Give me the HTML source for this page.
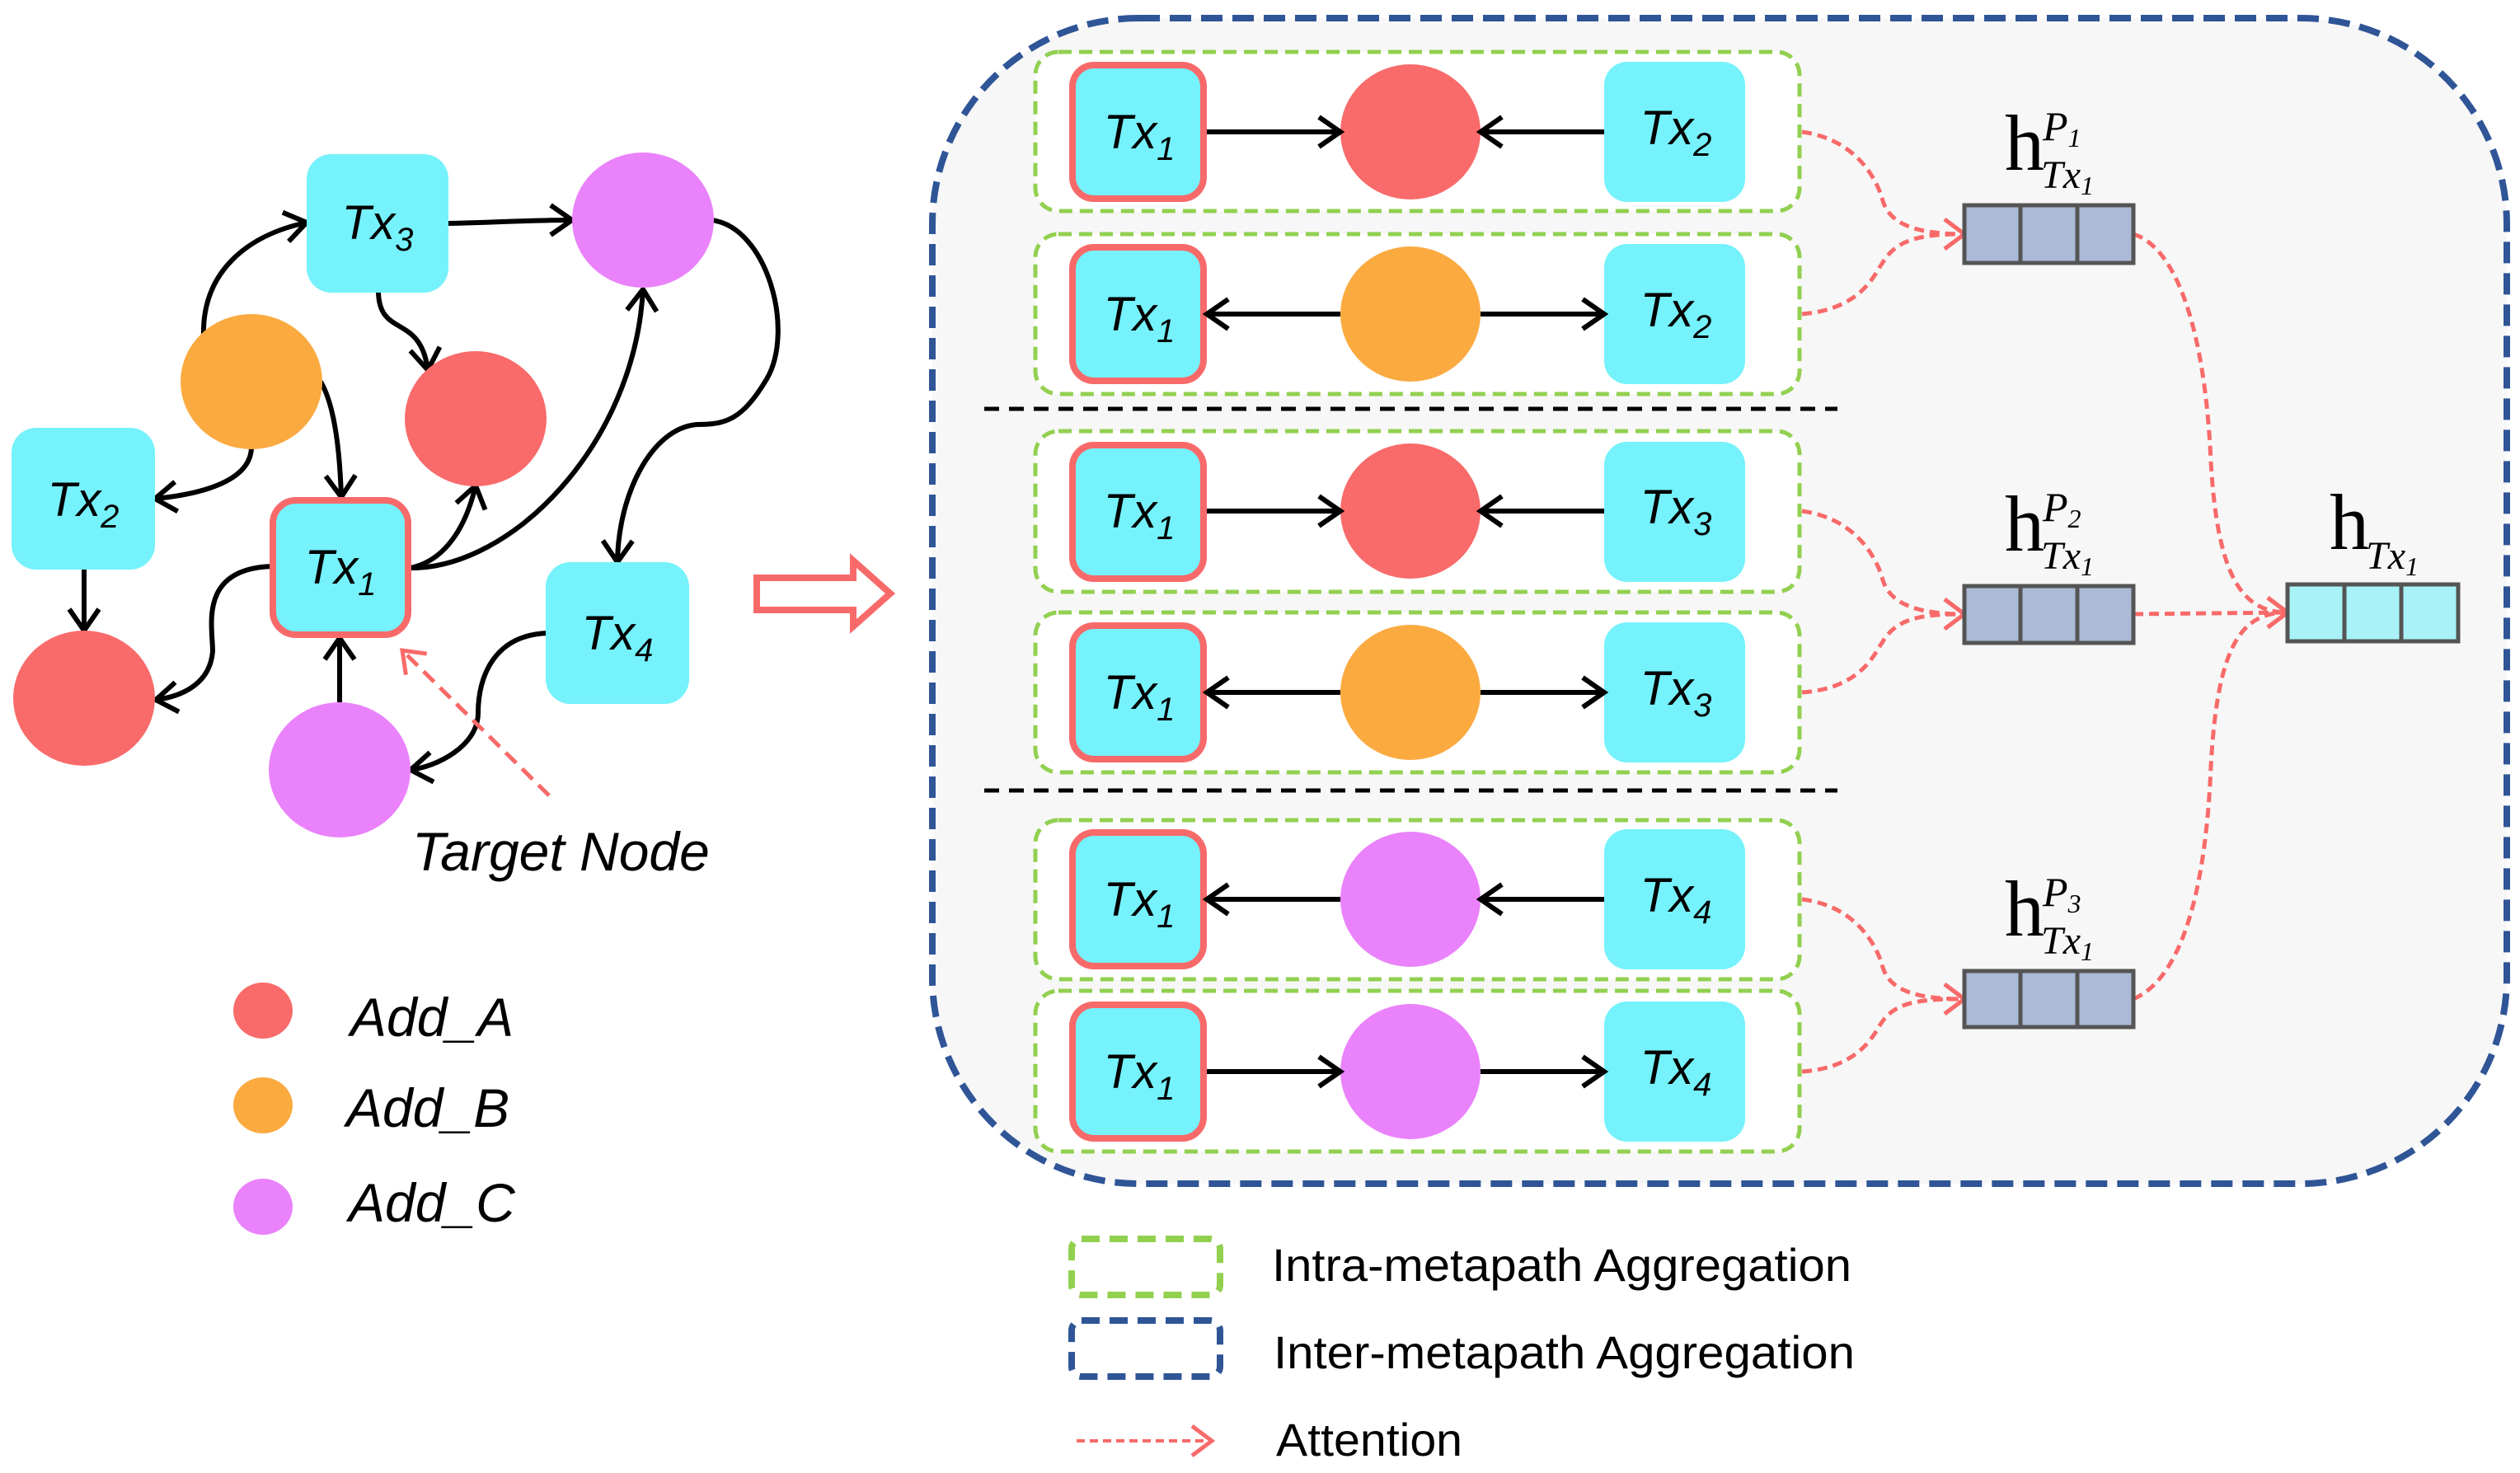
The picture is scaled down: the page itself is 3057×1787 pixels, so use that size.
<!DOCTYPE html>
<html><head><meta charset="utf-8"><style>html,body{margin:0;padding:0;background:#fff}svg{display:block}</style></head><body>
<svg width="3057" height="1787" viewBox="0 0 3057 1787" xmlns="http://www.w3.org/2000/svg" font-family="Liberation Sans, sans-serif">
<defs>
<marker id="ab" markerUnits="userSpaceOnUse" markerWidth="44" markerHeight="44" refX="32" refY="22" orient="auto" viewBox="0 0 44 44"><path d="M6,4 L32,22 L6,40" fill="none" stroke="#000" stroke-width="6"/></marker>
<marker id="ar" markerUnits="userSpaceOnUse" markerWidth="44" markerHeight="44" refX="32" refY="22" orient="auto" viewBox="0 0 44 44"><path d="M8,4 L32,22 L8,40" fill="none" stroke="#f86a6a" stroke-width="5"/></marker>
</defs>
<!-- LEFT GRAPH -->
<g fill="none" stroke="#000" stroke-width="6" marker-end="url(#ab)">
<path d="M247,407 C245,330 300,285 372,270"/>
<path d="M544,271 C600,270 640,267 694,267"/>
<path d="M459,354 C460,410 510,380 519,449"/>
<path d="M389,463 C405,490 412,540 414,603"/>
<path d="M305,542 C305,585 240,600 188,605"/>
<path d="M102,691 L102,765"/>
<path d="M330,687 C240,690 258,760 258,790 C255,830 220,845 189,849"/>
<path d="M498,689 C540,680 565,640 577,589"/>
<path d="M498,689 C620,690 770,540 780,351"/>
<path d="M863,267 C930,275 965,400 930,460 C900,510 880,515 845,515 C790,520 750,600 749,682"/>
<path d="M665,768 C600,770 580,820 580,865 C580,905 530,930 498,934"/>
<path d="M412,852 L412,774"/>
</g>
<rect x="372" y="187" width="172" height="168" rx="30" fill="#75f2fb"/>
<rect x="14" y="519" width="174" height="172" rx="30" fill="#75f2fb"/>
<rect x="662" y="682" width="174" height="172" rx="30" fill="#75f2fb"/>
<rect x="331" y="607" width="164" height="163" rx="28" fill="#75f2fb" stroke="#f86a6a" stroke-width="8"/>
<ellipse cx="780" cy="267" rx="86" ry="82" fill="#ea82fb"/>
<ellipse cx="305" cy="463" rx="86" ry="82" fill="#fbaa40"/>
<ellipse cx="577" cy="508" rx="86" ry="82" fill="#f96a6a"/>
<ellipse cx="102" cy="847" rx="86" ry="82" fill="#f96a6a"/>
<ellipse cx="412" cy="934" rx="86" ry="82" fill="#ea82fb"/>
<g font-style="italic" font-size="58" text-anchor="middle">
<text x="458" y="290">Tx<tspan font-size="40" dy="14">3</tspan></text>
<text x="101" y="626">Tx<tspan font-size="40" dy="14">2</tspan></text>
<text x="413" y="708">Tx<tspan font-size="40" dy="14">1</tspan></text>
<text x="749" y="788">Tx<tspan font-size="40" dy="14">4</tspan></text>
</g>
<path d="M666,965 L488,789" stroke="#f86a6a" stroke-width="5" stroke-dasharray="18,10" fill="none" marker-end="url(#ar)"/>
<text x="500" y="1056" font-size="66" font-style="italic">Target Node</text>
<path d="M918,701 L1035,701 L1035,680 L1080,720 L1035,760 L1035,740 L918,740 Z" fill="#fff" stroke="#f86a6a" stroke-width="8"/>
<!-- legend left -->
<ellipse cx="319" cy="1226" rx="36" ry="34" fill="#f96a6a"/>
<ellipse cx="319" cy="1341" rx="36" ry="34" fill="#fbaa40"/>
<ellipse cx="319" cy="1464" rx="36" ry="34" fill="#ea82fb"/>
<g font-size="66" font-style="italic"><text x="425" y="1257">Add_A</text><text x="420" y="1367">Add_B</text><text x="423" y="1482">Add_C</text></g>
<!-- RIGHT PANEL -->
<rect x="1131" y="22" width="1910" height="1414" rx="250" fill="#f7f7f7" stroke="#2f5597" stroke-width="8" stroke-dasharray="26,12"/>
<g stroke="#000" stroke-width="5" stroke-dasharray="18,12"><line x1="1194" y1="496" x2="2229" y2="496"/><line x1="1194" y1="959" x2="2229" y2="959"/></g>
<g fill="#fff" stroke="#92d050" stroke-width="5" stroke-dasharray="16,9">
<rect x="1256" y="63" width="927" height="193" rx="28"/>
<rect x="1256" y="284" width="927" height="194" rx="28"/>
<rect x="1256" y="523" width="927" height="195" rx="28"/>
<rect x="1256" y="743" width="927" height="194" rx="28"/>
<rect x="1256" y="995" width="927" height="193" rx="28"/>
<rect x="1256" y="1202" width="927" height="195" rx="28"/>
</g>
<g fill="#75f2fb">
<rect x="1301" y="79" width="159" height="162" rx="26" stroke="#f86a6a" stroke-width="8"/>
<rect x="1301" y="300" width="159" height="162" rx="26" stroke="#f86a6a" stroke-width="8"/>
<rect x="1301" y="540" width="159" height="162" rx="26" stroke="#f86a6a" stroke-width="8"/>
<rect x="1301" y="759" width="159" height="162" rx="26" stroke="#f86a6a" stroke-width="8"/>
<rect x="1301" y="1010" width="159" height="162" rx="26" stroke="#f86a6a" stroke-width="8"/>
<rect x="1301" y="1219" width="159" height="162" rx="26" stroke="#f86a6a" stroke-width="8"/>
<rect x="1946" y="75" width="171" height="170" rx="28"/>
<rect x="1946" y="296" width="171" height="170" rx="28"/>
<rect x="1946" y="536" width="171" height="170" rx="28"/>
<rect x="1946" y="755" width="171" height="170" rx="28"/>
<rect x="1946" y="1006" width="171" height="170" rx="28"/>
<rect x="1946" y="1215" width="171" height="170" rx="28"/>
</g>
<ellipse cx="1711" cy="160" rx="85" ry="82" fill="#f96a6a"/>
<ellipse cx="1711" cy="381" rx="85" ry="82" fill="#fbaa40"/>
<ellipse cx="1711" cy="620" rx="85" ry="82" fill="#f96a6a"/>
<ellipse cx="1711" cy="840" rx="85" ry="82" fill="#fbaa40"/>
<ellipse cx="1711" cy="1091" rx="85" ry="82" fill="#ea82fb"/>
<ellipse cx="1711" cy="1300" rx="85" ry="82" fill="#ea82fb"/>
<g stroke="#000" stroke-width="6" marker-end="url(#ab)">
<line x1="1464" y1="160" x2="1626" y2="160"/><line x1="1946" y1="160" x2="1796" y2="160"/>
<line x1="1626" y1="381" x2="1464" y2="381"/><line x1="1796" y1="381" x2="1946" y2="381"/>
<line x1="1464" y1="620" x2="1626" y2="620"/><line x1="1946" y1="620" x2="1796" y2="620"/>
<line x1="1626" y1="840" x2="1464" y2="840"/><line x1="1796" y1="840" x2="1946" y2="840"/>
<line x1="1626" y1="1091" x2="1464" y2="1091"/><line x1="1946" y1="1091" x2="1796" y2="1091"/>
<line x1="1464" y1="1300" x2="1626" y2="1300"/><line x1="1796" y1="1300" x2="1946" y2="1300"/>
</g>
<g font-style="italic" font-size="58" text-anchor="middle">
<text x="1382" y="180">Tx<tspan font-size="40" dy="14">1</tspan></text>
<text x="1382" y="401">Tx<tspan font-size="40" dy="14">1</tspan></text>
<text x="1382" y="640">Tx<tspan font-size="40" dy="14">1</tspan></text>
<text x="1382" y="860">Tx<tspan font-size="40" dy="14">1</tspan></text>
<text x="1382" y="1111">Tx<tspan font-size="40" dy="14">1</tspan></text>
<text x="1382" y="1320">Tx<tspan font-size="40" dy="14">1</tspan></text>
<text x="2033" y="175">Tx<tspan font-size="40" dy="14">2</tspan></text>
<text x="2033" y="396">Tx<tspan font-size="40" dy="14">2</tspan></text>
<text x="2033" y="635">Tx<tspan font-size="40" dy="14">3</tspan></text>
<text x="2033" y="855">Tx<tspan font-size="40" dy="14">3</tspan></text>
<text x="2033" y="1106">Tx<tspan font-size="40" dy="14">4</tspan></text>
<text x="2033" y="1315">Tx<tspan font-size="40" dy="14">4</tspan></text>
</g>
<!-- attention curves -->
<g fill="none" stroke="#f86a6a" stroke-width="5" stroke-dasharray="12,7" marker-end="url(#ar)">
<path d="M2186,160 C2260,170 2280,230 2283,240 C2290,270 2320,284 2383,284"/>
<path d="M2186,381 C2260,375 2275,330 2283,320 C2300,290 2330,284 2383,284"/>
<path d="M2186,620 C2260,630 2280,690 2283,700 C2290,730 2320,745 2383,745"/>
<path d="M2186,840 C2260,835 2275,790 2283,780 C2300,750 2330,745 2383,745"/>
<path d="M2186,1091 C2260,1100 2280,1160 2283,1170 C2290,1200 2320,1212 2383,1212"/>
<path d="M2186,1300 C2260,1295 2275,1250 2283,1240 C2300,1215 2330,1212 2383,1212"/>
<path d="M2588,284 C2640,300 2675,400 2682,560 C2690,700 2720,743 2775,743"/>
<path d="M2588,745 L2775,743"/>
<path d="M2588,1212 C2640,1190 2675,1100 2682,930 C2690,780 2720,743 2775,743"/>
</g>
<!-- vectors -->
<g stroke="#555" stroke-width="5" fill="#abbad6">
<rect x="2383" y="249" width="205" height="70"/><line x1="2451" y1="249" x2="2451" y2="319"/><line x1="2520" y1="249" x2="2520" y2="319"/>
<rect x="2383" y="711" width="205" height="69"/><line x1="2451" y1="711" x2="2451" y2="780"/><line x1="2520" y1="711" x2="2520" y2="780"/>
<rect x="2383" y="1178" width="205" height="68"/><line x1="2451" y1="1178" x2="2451" y2="1246"/><line x1="2520" y1="1178" x2="2520" y2="1246"/>
<rect x="2775" y="709" width="207" height="69" fill="#a8f2f8"/><line x1="2844" y1="709" x2="2844" y2="778"/><line x1="2913" y1="709" x2="2913" y2="778"/>
</g>
<g font-family="Liberation Serif, serif">
<text x="2432" y="206" font-size="96">h</text><text x="2478" y="170" font-size="50" font-style="italic">P<tspan font-size="32" dy="8">1</tspan></text><text x="2476" y="228" font-size="48" font-style="italic">Tx<tspan font-size="32" dy="8">1</tspan></text>
<text x="2432" y="668" font-size="96">h</text><text x="2478" y="632" font-size="50" font-style="italic">P<tspan font-size="32" dy="8">2</tspan></text><text x="2476" y="690" font-size="48" font-style="italic">Tx<tspan font-size="32" dy="8">1</tspan></text>
<text x="2432" y="1135" font-size="96">h</text><text x="2478" y="1099" font-size="50" font-style="italic">P<tspan font-size="32" dy="8">3</tspan></text><text x="2476" y="1157" font-size="48" font-style="italic">Tx<tspan font-size="32" dy="8">1</tspan></text>
<text x="2826" y="666" font-size="96">h</text><text x="2870" y="690" font-size="48" font-style="italic">Tx<tspan font-size="32" dy="8">1</tspan></text>
</g>
<!-- bottom legend -->
<rect x="1300" y="1503" width="180" height="68" rx="12" fill="none" stroke="#92d050" stroke-width="8" stroke-dasharray="22,12"/>
<rect x="1300" y="1602" width="180" height="68" rx="12" fill="none" stroke="#2f5597" stroke-width="8" stroke-dasharray="22,12"/>
<line x1="1306" y1="1748" x2="1470" y2="1748" stroke="#f86a6a" stroke-width="4" stroke-dasharray="10,6" marker-end="url(#ar)"/>
<g font-size="56">
<text x="1543" y="1554" textLength="703" lengthAdjust="spacingAndGlyphs">Intra-metapath Aggregation</text>
<text x="1545" y="1660" textLength="705" lengthAdjust="spacingAndGlyphs">Inter-metapath Aggregation</text>
<text x="1548" y="1766" textLength="226" lengthAdjust="spacingAndGlyphs">Attention</text>
</g>
</svg>
</body></html>
